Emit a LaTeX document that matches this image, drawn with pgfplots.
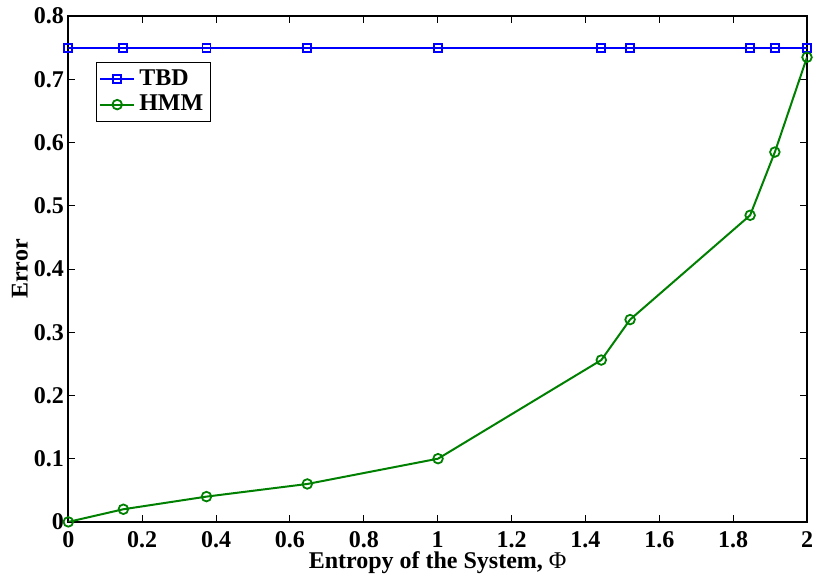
\documentclass[border=0pt]{standalone}
\usepackage{pgfplots}
\pgfplotsset{compat=1.18}
\usepackage{fontspec}
\setmainfont{Liberation Serif}
\begin{document}
\fontsize{12}{13}\selectfont\bfseries
\begin{tikzpicture}
\begin{axis}[
    scale only axis,
    width=369.5pt,
    height=253pt,
    xmin=0, xmax=2,
    ymin=0, ymax=0.8,
    xtick={0,0.2,...,2.0},
    ytick={0,0.1,...,0.8},
    xticklabels={0,0.2,0.4,0.6,0.8,1,1.2,1.4,1.6,1.8,2},
    yticklabels={0,0.1,0.2,0.3,0.4,0.5,0.6,0.7,0.8},
    tick align=inside,
    major tick length=3.5pt,
    tick style={black, line width=0.5pt},
    axis line style={line width=0.9pt},
    xticklabel style={font=\fontsize{12}{13}\selectfont\bfseries, inner sep=0pt, yshift=-4.5pt},
    yticklabel style={font=\fontsize{12}{13}\selectfont\bfseries, inner xsep=0pt, inner ysep=4pt, xshift=-2pt},
    xlabel={Entropy of the System, {\mdseries Φ}},
    ylabel={Error},
    xlabel style={font=\fontsize{12}{13}\selectfont\bfseries, inner sep=1pt,
        at={(axis description cs:0.5,0)}, anchor=north, yshift=-13.5pt},
    ylabel style={font=\fontsize{12}{13}\selectfont\bfseries, inner xsep=1pt, inner ysep=6pt,
        at={(axis description cs:-0.0379,0.5)}, anchor=south},
    legend style={at={(0.037,0.909)}, anchor=north west, draw=black, line width=0.5pt,
        font=\fontsize{12}{13}\selectfont\bfseries, inner sep=1.5pt, row sep=-1pt},
    legend cell align=left,
    legend image post style={line width=1pt},
]
\addplot[color={rgb,1:red,0;green,0;blue,1}, line width=1pt, mark=square, mark size=2pt,
    mark options={solid, line width=0.9pt}]
    coordinates {(0,0.75) (0.149,0.75) (0.374,0.75) (0.647,0.75) (1.001,0.75)
                 (1.443,0.75) (1.521,0.75) (1.846,0.75) (1.913,0.75) (2.0,0.75)};
\addplot[color={rgb,1:red,0;green,0.5;blue,0}, line width=1pt, mark=o, mark size=2.4pt,
    mark options={solid, line width=0.9pt}]
    coordinates {(0,0) (0.149,0.02) (0.374,0.04) (0.647,0.06) (1.001,0.1)
                 (1.443,0.256) (1.521,0.32) (1.846,0.485) (1.913,0.585) (2.0,0.735)};
\legend{TBD, HMM}
\end{axis}
\end{tikzpicture}
\end{document}
